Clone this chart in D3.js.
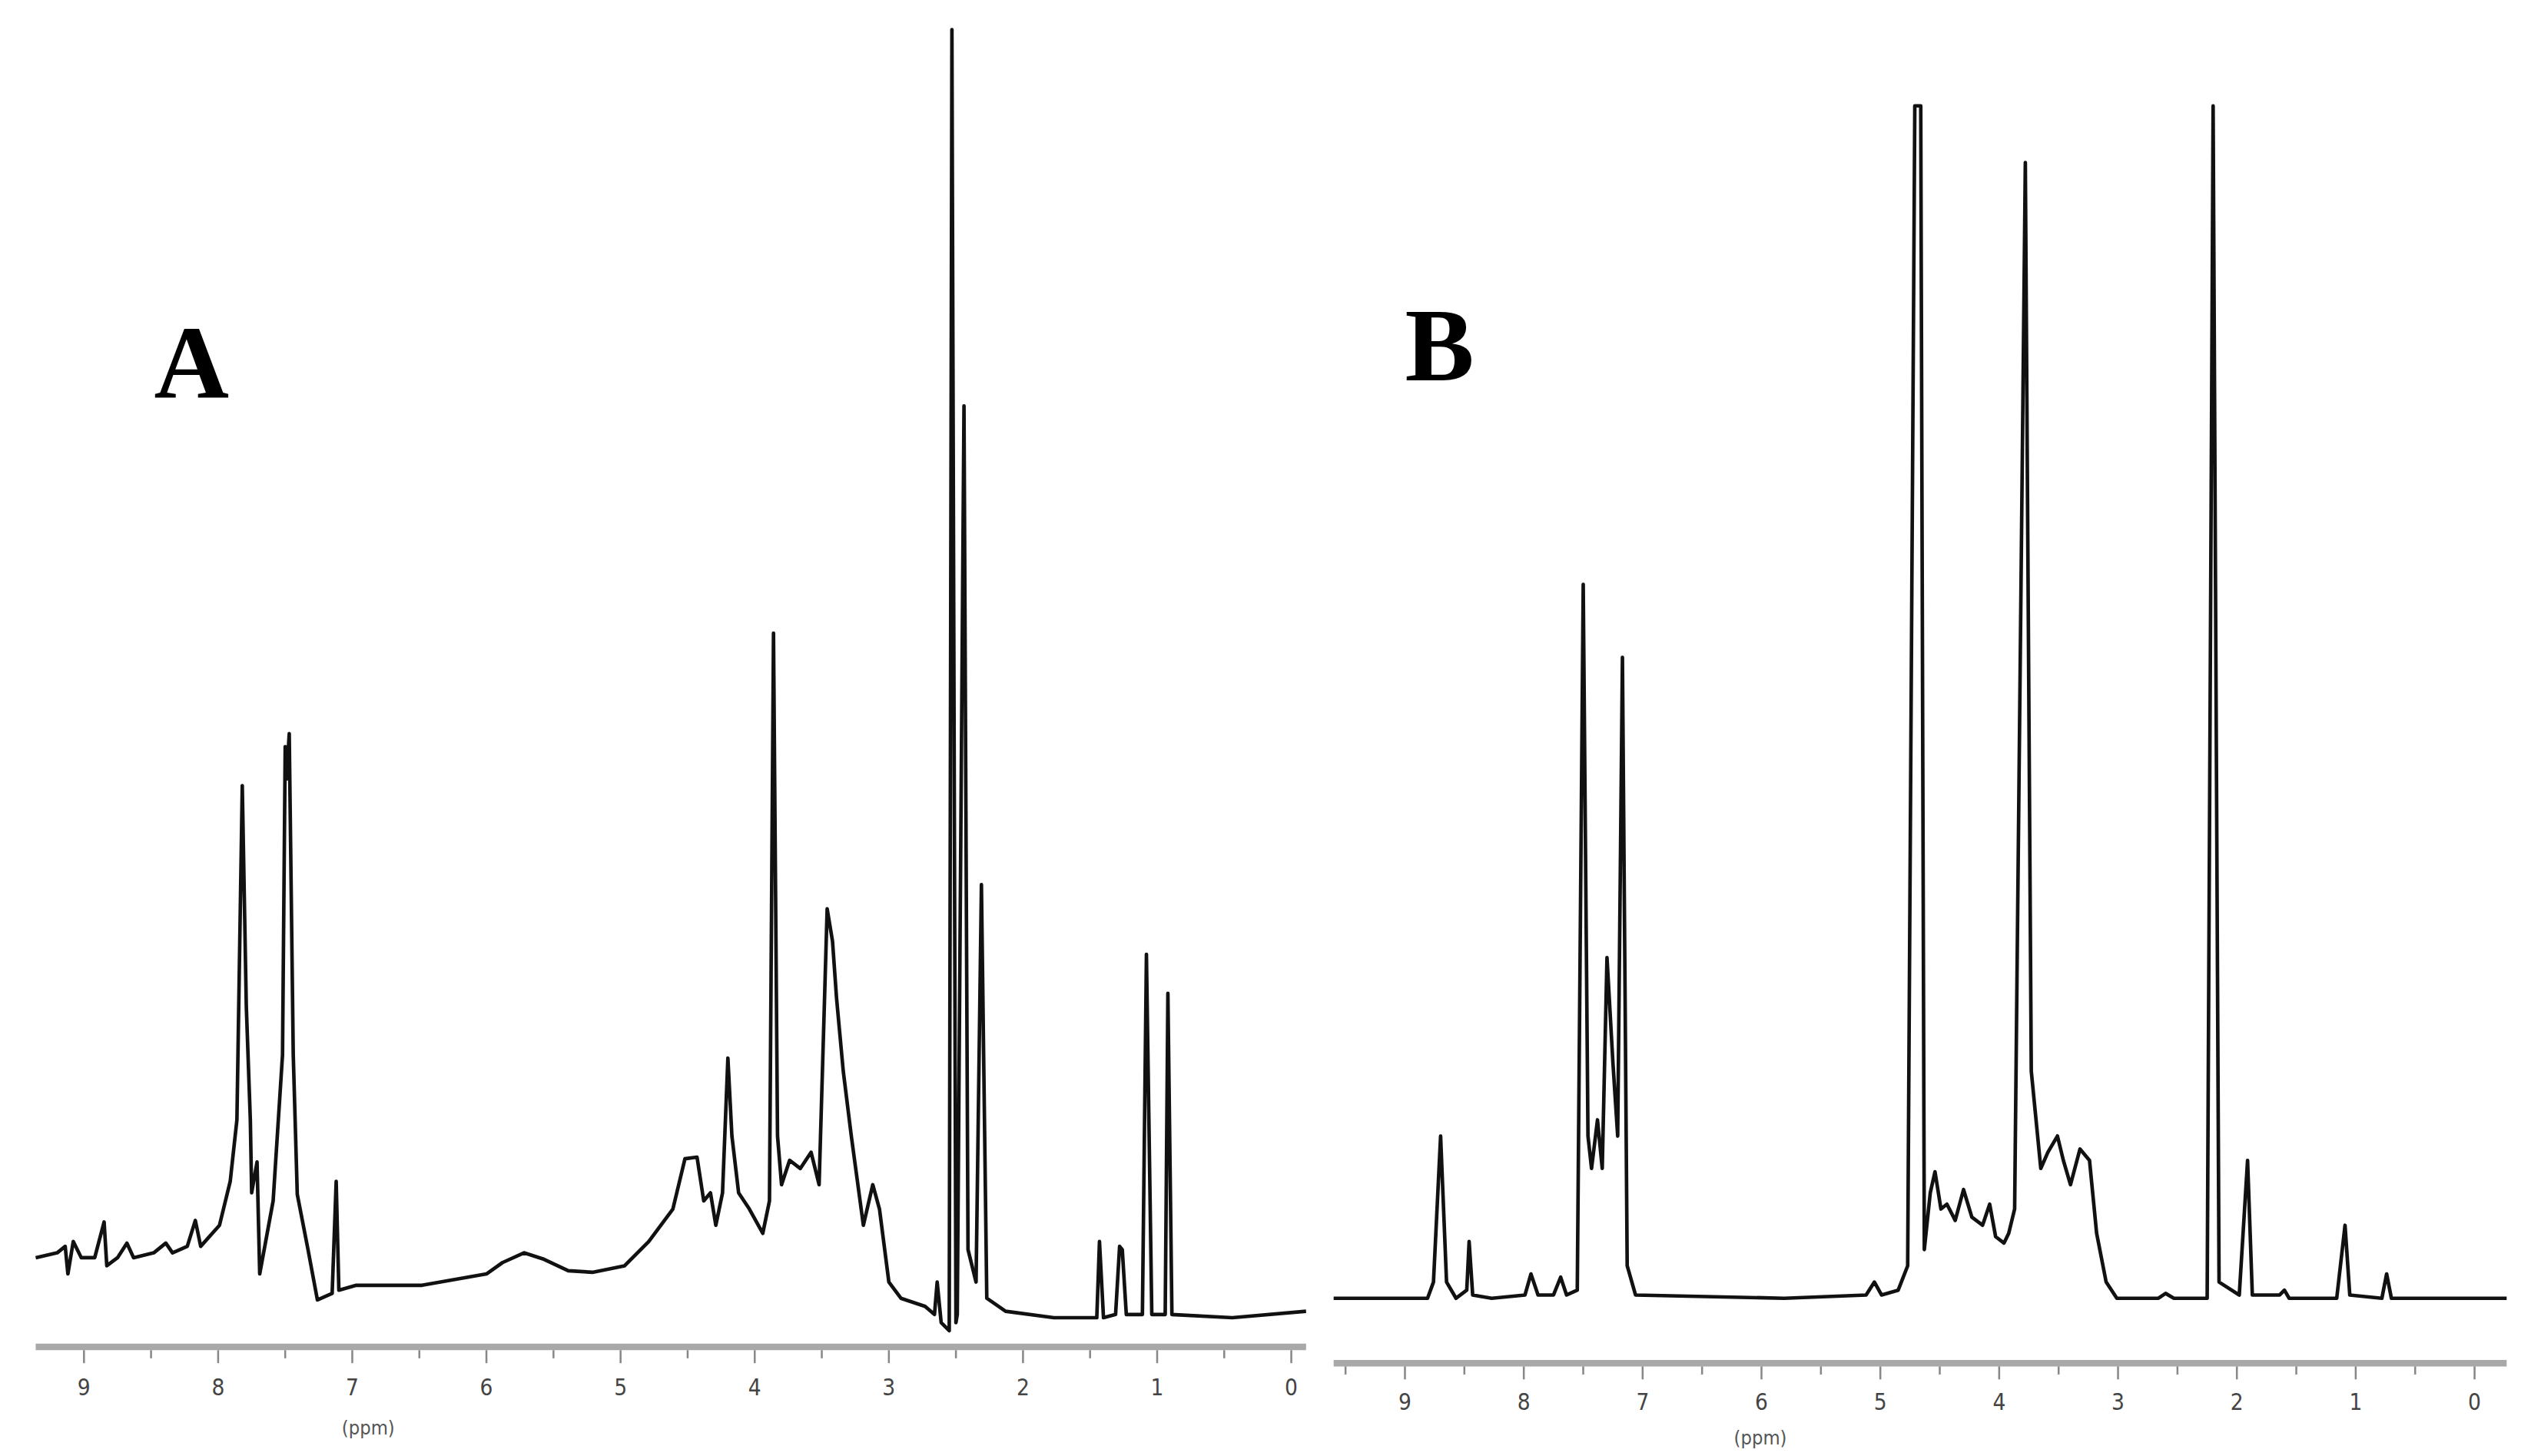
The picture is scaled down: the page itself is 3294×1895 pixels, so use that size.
<!DOCTYPE html>
<html lang="en">
<head>
    <meta charset="UTF-8">
    <title>1H NMR spectra A and B</title>
    <script src="https://d3js.org/d3.v7.min.js"></script>
    <style>
        body { margin: 0; background: #fff; }
    </style>
</head>
<body>
    <div id="chart"></div>

    <script>
        // Spectrum A: chemical shift (ppm) and intensity (arbitrary units)
        const ppmA = [9.36, 9.20, 9.14, 9.12, 9.08, 9.02, 8.92, 8.85, 8.83, 8.75, 8.68, 8.63, 8.48, 8.39, 8.34, 8.23, 8.17, 8.13,
            7.99, 7.91, 7.86, 7.82, 7.79, 7.76, 7.75, 7.71, 7.69, 7.59, 7.52, 7.50, 7.49, 7.47, 7.44, 7.41, 7.33, 7.26, 7.15, 7.12, 7.10,
            6.97, 6.48, 6.00, 5.88, 5.72, 5.57, 5.39, 5.21, 5.09, 4.97, 4.79, 4.61, 4.52, 4.43, 4.38, 4.33, 4.29, 4.24, 4.20, 4.17,
            4.12, 4.04, 3.94, 3.89, 3.86, 3.83, 3.80, 3.74, 3.66, 3.58, 3.52, 3.46, 3.42, 3.39, 3.34, 3.28, 3.19, 3.12, 3.07, 3.00,
            2.91, 2.73, 2.66, 2.64, 2.61, 2.55, 2.53, 2.50, 2.49, 2.44, 2.41, 2.35, 2.31, 2.27, 2.13, 1.77, 1.45, 1.43, 1.40, 1.31,
            1.28, 1.26, 1.23, 1.11, 1.08, 1.04, 0.94, 0.92, 0.89, 0.44, -0.11];
        const intA = [55, 58, 62, 45, 65, 55, 55, 77, 50, 55, 64, 55, 58, 64, 58, 62, 78, 62,
            75, 102, 140, 346, 210, 140, 95, 114, 45, 90, 180, 370, 350, 378, 180, 94, 60, 29, 33, 102, 35,
            38, 38, 45, 52, 58, 54, 47, 46, 48, 50, 65, 85, 116, 117, 90, 95, 75, 95, 178, 130,
            95, 85, 70, 90, 440, 130, 100, 115, 110, 120, 100, 270, 250, 215, 170, 130, 75, 100, 85, 40,
            30, 25, 20, 40, 15, 10, 812, 15, 20, 580, 60, 40, 285, 30, 22, 18, 18, 65, 18, 20,
            62, 60, 20, 20, 242, 20, 20, 218, 20, 18, 22];

        // Spectrum B
        const ppmB = [9.60, 8.81, 8.76, 8.70, 8.65, 8.57, 8.48, 8.46, 8.43, 8.27, 7.99, 7.94, 7.88, 7.75, 7.69, 7.64, 7.55,
            7.50, 7.46, 7.43, 7.38, 7.34, 7.30, 7.25, 7.21, 7.17, 7.13, 7.06, 5.81, 5.12, 5.05, 4.99, 4.85, 4.77, 4.71, 4.66,
            4.63, 4.58, 4.54, 4.49, 4.44, 4.37, 4.30, 4.23, 4.14, 4.08, 4.03, 3.96, 3.92, 3.87, 3.78, 3.73, 3.65, 3.59, 3.51,
            3.46, 3.40, 3.32, 3.24, 3.18, 3.10, 3.01, 2.66, 2.60, 2.53, 2.25, 2.20, 2.15, 1.98, 1.91, 1.87, 1.64, 1.60, 1.56,
            1.16, 1.09, 1.05, 0.78, 0.74, 0.70, -0.27];
        const intB = [40, 40, 50, 140, 50, 40, 45, 75, 42, 40, 42, 55, 42, 42, 53, 42, 45,
            480, 140, 120, 150, 120, 250, 185, 140, 435, 60, 42, 40, 42, 50, 42, 45, 60, 775, 775,
            70, 105, 118, 95, 98, 88, 107, 90, 85, 98, 78, 74, 80, 95, 740, 180, 120, 130, 140,
            125, 110, 132, 125, 80, 50, 40, 40, 43, 40, 40, 775, 50, 42, 125, 42, 42, 45, 40,
            40, 85, 42, 40, 55, 40, 40];

        const tickValues = [9, 8, 7, 6, 5, 4, 3, 2, 1, 0];
        const minorTicks = [9.5, 8.5, 7.5, 6.5, 5.5, 4.5, 3.5, 2.5, 1.5, 0.5];

        const W = 1560, H = 897;
        const svg = d3.select("#chart").append("svg")
            .attr("width", 3294).attr("height", 1895)
            .attr("viewBox", `0 0 ${W} ${H}`);

        const panels = [
            { ppm: ppmA, int: intA, xd: [9.36, -0.11], xr: [22, 805], yd: [0, 812], axisY: 830, label: "A", lx: 95, ly: 245, unitX: 227, labY: 30, unitY: 54 },
            { ppm: ppmB, int: intB, xd: [9.60, -0.27], xr: [822, 1545], yd: [0, 800], axisY: 840, label: "B", lx: 866, ly: 234, unitX: 1085, labY: 29, unitY: 50 }
        ];

        panels.forEach(p => {
            const x = d3.scaleLinear().domain(p.xd).range(p.xr);
            const y = d3.scaleLinear().domain(p.yd).range([p.axisY, p.axisY - p.yd[1]]);
            const pts = p.ppm.map((v, i) => [v, p.int[i]]);

            const line = d3.line().x(d => x(d[0])).y(d => y(d[1]));
            svg.append("path").datum(pts)
                .attr("fill", "none").attr("stroke", "#111")
                .attr("stroke-width", 2.2).attr("stroke-linejoin", "round")
                .attr("d", line);

            // axis
            const g = svg.append("g").attr("transform", `translate(0, ${p.axisY})`);
            g.append("line").attr("x1", p.xr[0]).attr("x2", p.xr[1])
                .attr("stroke", "#a8a8a8").attr("stroke-width", 4);
            g.selectAll(".maj").data(tickValues).enter().append("line")
                .attr("x1", d => x(d)).attr("x2", d => x(d)).attr("y1", 2).attr("y2", 10)
                .attr("stroke", "#888").attr("stroke-width", 1.2);
            g.selectAll(".min").data(minorTicks.filter(d => d <= p.xd[0] && d >= p.xd[1])).enter().append("line")
                .attr("x1", d => x(d)).attr("x2", d => x(d)).attr("y1", 2).attr("y2", 7)
                .attr("stroke", "#888").attr("stroke-width", 1.2);
            g.selectAll("text").data(tickValues).enter().append("text")
                .attr("x", d => x(d)).attr("y", p.labY)
                .attr("text-anchor", "middle")
                .attr("font-family", "DejaVu Sans Condensed, DejaVu Sans, sans-serif")
                .attr("font-size", 14).attr("fill", "#444")
                .text(d => d);
            g.append("text").attr("x", p.unitX).attr("y", p.unitY)
                .attr("text-anchor", "middle")
                .attr("font-family", "DejaVu Sans Condensed, DejaVu Sans, sans-serif")
                .attr("font-size", 12).attr("fill", "#555")
                .text("(ppm)");

            svg.append("text").attr("x", p.lx).attr("y", p.ly)
                .attr("font-family", "Liberation Serif, DejaVu Serif, serif")
                .attr("font-weight", "bold").attr("font-size", 64).attr("fill", "#000")
                .text(p.label);
        });
    </script>
</body>
</html>
